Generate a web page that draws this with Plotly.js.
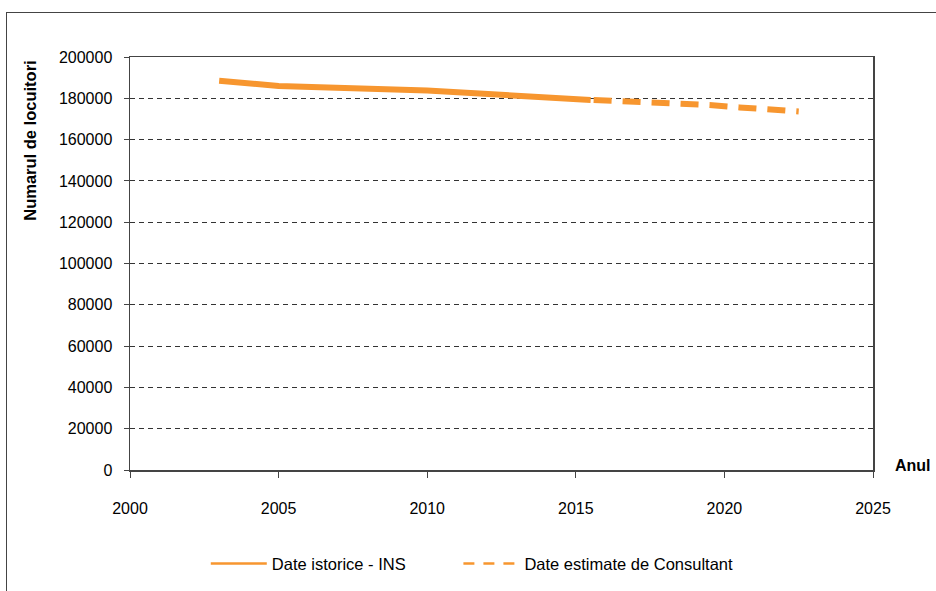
<!DOCTYPE html>
<html>
<head>
<meta charset="utf-8">
<script src="https://cdn.plot.ly/plotly-3.0.1.min.js"></script>
<style>
  html, body { margin:0; padding:0; width:936px; height:591px; overflow:hidden; background:#fff; }
  #frame { position:absolute; left:6px; top:12px; width:1000px; height:1000px; border:1.5px solid #444; box-sizing:border-box; }
  #chart { position:absolute; left:0; top:0; width:936px; height:591px; }
</style>
</head>
<body>
<div id="frame"></div>
<div id="chart"></div>
<script>
// Data
const histYears = [2003, 2005, 2010, 2012.5, 2015.5];
const histValues = [188500, 186000, 183800, 181900, 179200];
const estYears = [2015.6, 2016.5, 2017.5, 2018.5, 2019.5, 2020.5, 2021.5, 2022.5];
const estValues = [179200, 178700, 178100, 177500, 176700, 175600, 174700, 173600];
const histName = 'Date istorice - INS';
const estName = 'Date estimate de Consultant';
const yTitle = 'Numarul de locuitori';
const xTitle = 'Anul';

const orange = '#F7962F';
const font = 'Liberation Sans, Arial, sans-serif';

const traces = [
  { x: histYears, y: histValues, name: histName, type: 'scatter', mode: 'lines',
    line: { color: orange, width: 6 }, showlegend: false },
  { x: estYears, y: estValues, name: estName, type: 'scatter', mode: 'lines',
    line: { color: orange, width: 6, dash: '18px,11px' }, showlegend: false },
  // legend entries (thin samples as in the reference)
  { x: [null], y: [null], name: histName, type: 'scatter', mode: 'lines',
    line: { color: orange, width: 2.5 }, legend: 'legend' },
  { x: [null], y: [null], name: estName, type: 'scatter', mode: 'lines',
    line: { color: orange, width: 2.5, dash: '11px,9px' }, legend: 'legend2' }
];

const legendBase = { orientation: 'h', xanchor: 'left', yref: 'container', y: 0.046, yanchor: 'middle',
  font: { family: font, size: 16.5, color: '#000' }, itemwidth: 56,
  bgcolor: 'rgba(0,0,0,0)' };

const layout = {
  width: 936, height: 591,
  margin: { l: 130, r: 63, t: 57, b: 121 },
  paper_bgcolor: 'rgba(0,0,0,0)', plot_bgcolor: '#fff',
  font: { family: font, size: 16, color: '#000' },
  showlegend: true,
  legend: Object.assign({}, legendBase, { x: 0.102 }),
  legend2: Object.assign({}, legendBase, { x: 0.442 }),
  xaxis: {
    range: [2000, 2025], dtick: 5, tick0: 2000,
    showgrid: false, zeroline: false,
    showline: true, linecolor: '#444', linewidth: 1.5, mirror: true,
    ticks: 'outside', ticklen: 6, tickcolor: '#444', tickwidth: 1,
    ticklabelstandoff: 17,
    tickfont: { family: font, size: 16, color: '#000' }
  },
  yaxis: {
    range: [0, 200000], dtick: 20000, tick0: 0, tickformat: 'd',
    showgrid: true, gridcolor: '#333', gridwidth: 1, griddash: '5px,4px',
    zeroline: false,
    showline: true, linecolor: '#444', linewidth: 1.5, mirror: true,
    ticks: 'outside', ticklen: 5, tickcolor: '#444', tickwidth: 1,
    ticklabelstandoff: 8,
    tickfont: { family: font, size: 16, color: '#000' }
  },
  annotations: [
    { text: '<b>' + yTitle + '</b>', xref: 'paper', yref: 'paper',
      x: -0.135, y: 0.995, xanchor: 'center', yanchor: 'top', textangle: -90,
      showarrow: false, font: { family: font, size: 16.5, color: '#000' } },
    { text: '<b>' + xTitle + '</b>', xref: 'paper', yref: 'paper',
      x: 1.054, y: 0.01, xanchor: 'center', yanchor: 'middle',
      showarrow: false, font: { family: font, size: 16, color: '#000' } }
  ]
};

Plotly.newPlot('chart', traces, layout, { displayModeBar: false, staticPlot: true });
</script>
</body>
</html>
